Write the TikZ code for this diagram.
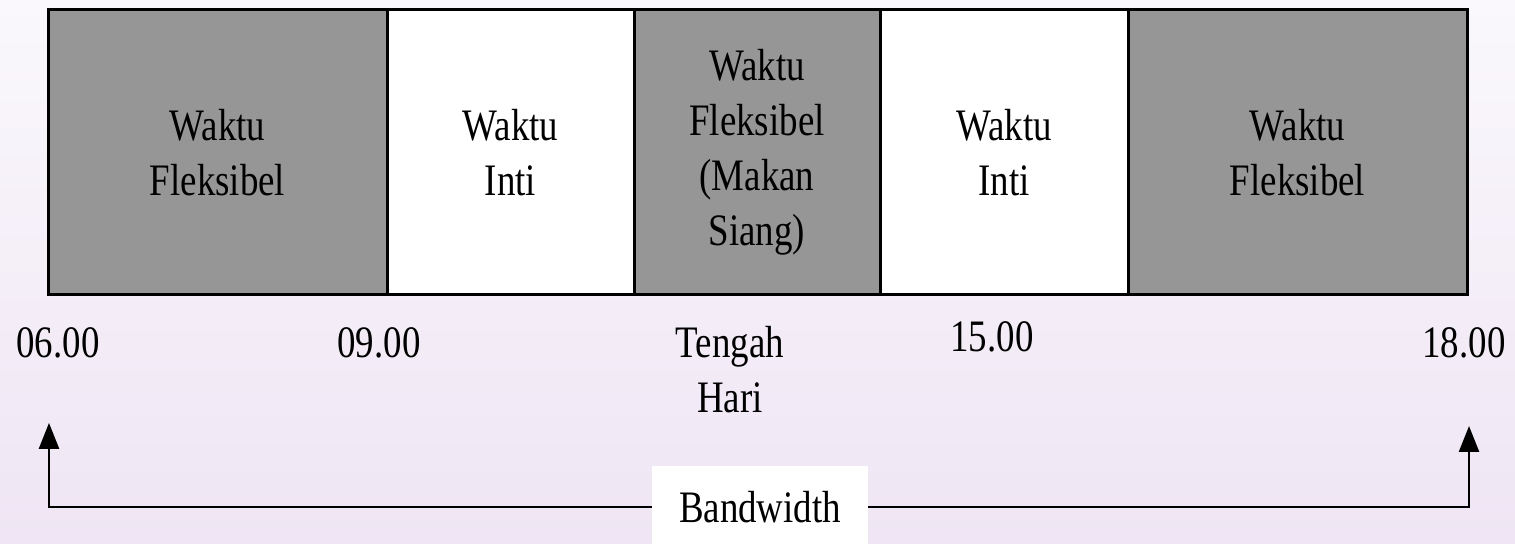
\documentclass[tikz,border=0pt]{standalone}
\usepackage{fontspec}
\setmainfont[FakeStretch=0.82]{Liberation Serif}
\usetikzlibrary{arrows.meta,positioning}
\definecolor{slotgray}{RGB}{150,150,150}
\definecolor{bgtop}{RGB}{250,248,252}
\definecolor{bgbottom}{RGB}{239,229,244}

\begin{document}
\begin{tikzpicture}[x=0.5pt, y=-0.5pt,
  slot/.style={draw=black, line width=1.5pt, outer sep=0pt, inner sep=0pt,
    minimum height=142.5pt, align=center, font=\fontsize{22.5}{27.5}\selectfont},
  flex/.style={slot, fill=slotgray},
  core/.style={slot, fill=white},
  timelbl/.style={anchor=base, inner sep=0pt, align=center, font=\fontsize{22.5}{27.5}\selectfont},
  bandarrow/.style={line width=1.3pt, -{Triangle[width=10pt,length=13pt]}}]
  \useasboundingbox[top color=bgtop, bottom color=bgbottom] (0,0) rectangle (1515,544);

  % time slots
  \node[flex, minimum width=169.5pt] (flex1) at (217.5,152.5) {Waktu\\Fleksibel};
  \node[core, minimum width=123.5pt, right=0pt of flex1] (core1) {Waktu\\Inti};
  \node[flex, minimum width=123pt, right=0pt of core1] (lunch) {Waktu\\Fleksibel\\(Makan\\Siang)};
  \node[core, minimum width=124pt, right=0pt of lunch] (core2) {Waktu\\Inti};
  \node[flex, minimum width=169.5pt, right=0pt of core2] (flex2) {Waktu\\Fleksibel};

  % hours
  \node[timelbl] (h06) at (58,358) {06.00};
  \node[timelbl] (h09) at (379,358) {09.00};
  \node[timelbl] (noon) at (730,413) {Tengah\\Hari};
  \node[timelbl] (h15) at (992,352) {15.00};
  \node[timelbl] (h18) at (1464,358) {18.00};

  % bandwidth
  \node[fill=white, minimum width=108pt, minimum height=41pt, inner sep=0pt,
    font=\fontsize{22.5}{27.5}\selectfont] (band) at (760,507) {Bandwidth};
  \coordinate (startcorner) at (49,507);
  \coordinate (starttip) at (49,423);
  \coordinate (endcorner) at (1469,507);
  \coordinate (endtip) at (1469,426);
  \draw[bandarrow] (band.west) -- (startcorner) -- (starttip);
  \draw[bandarrow] (band.east) -- (endcorner) -- (endtip);
\end{tikzpicture}
\end{document}
